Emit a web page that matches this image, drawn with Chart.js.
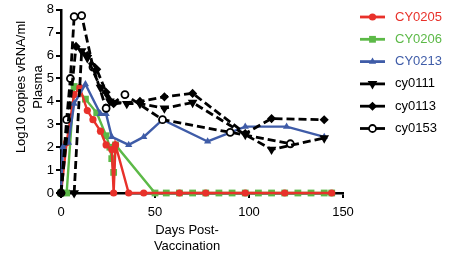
<!DOCTYPE html>
<html><head><meta charset="utf-8">
<script src="https://cdn.jsdelivr.net/npm/chart.js@4/dist/chart.umd.min.js"></script>
<style>html,body{margin:0;padding:0;background:#fff}#wrap{width:450px;height:253px}</style>
</head><body><div id="wrap"><canvas id="c" width="450" height="253"></canvas></div>
<script>
const seriesNames = ["CY0205","CY0206","CY0213","cy0111","cy0113","cy0153"];
const cy0205Days = [0,3,7,10,14,17,21,24,27,28,29,36,44,63,77,98,119,144];
const cy0205Vals = [0,2.2,4.3,4.6,3.6,3.2,2.7,2.1,1.9,0,2.1,0,0,0,0,0,0,0];
const cy0206Days = [0,3,7,13,19,24,26,27,28,29,50,56,63,70,77,84,91,98,105,112,119,126,133,140,144];
const cy0206Vals = [0,0,4.65,4.1,3.5,2.5,2.0,1.5,0.9,2.1,0,0,0,0,0,0,0,0,0,0,0,0,0,0,0];
const cy0213Days = [0,1,4,7,13,21,24,27,36,44,54,78,98,120,140];
const cy0213Vals = [0,2.0,2.2,3.9,4.75,3.45,3.45,2.45,2.1,2.45,3.2,2.25,2.9,2.9,2.45];
const cy0111Days = [7,11,14,21,26,35,42,55,70,98,112,140];
const cy0111Vals = [0,6.2,5.9,4.6,4.0,3.9,3.9,3.7,3.95,2.55,1.9,2.4];
const cy0113Days = [0,8,14,19,24,28,42,55,70,98,112,140];
const cy0113Vals = [0,6.4,6.0,5.4,4.4,3.9,4.0,4.2,4.35,2.6,3.25,3.2];
const cy0153Days = [0,3,5,7,11,17,24,34,54,90,122];
const cy0153Vals = [0,3.2,5.0,7.7,7.75,5.5,3.7,4.3,3.2,2.65,2.15];
const xTicks = [0,50,100,150];
const yTicks = [0,1,2,3,4,5,6,7,8];

const RED="#e8312a", GREEN="#5cb947", BLUE="#3f5ca8", BLACK="#000";
const pts=(d,v)=>d.map((x,i)=>({x:x,y:v[i]}));
const FONT="'Liberation Sans', Arial, sans-serif";

function colored(name,d,v,color,style,r){
  return {label:name,data:pts(d,v),borderColor:color,backgroundColor:color,borderWidth:2.4,
    pointStyle:style,pointRadius:r,pointBorderWidth:0,pointBorderColor:color,pointBackgroundColor:color,clip:false,tension:0};
}
function dashed(name,d,v,style,r,rot,fill){
  return {label:name,data:pts(d,v),borderColor:BLACK,backgroundColor:BLACK,borderWidth:2.8,borderDash:[8,4],
    pointStyle:style,pointRadius:r,pointRotation:rot,pointBorderColor:BLACK,pointBorderWidth:1.8,
    pointBackgroundColor:fill,clip:false,tension:0};
}
const datasets=[
  dashed(seriesNames[3],cy0111Days,cy0111Vals,'triangle',3.8,180,BLACK),
  dashed(seriesNames[4],cy0113Days,cy0113Vals,'rectRot',3.3,0,BLACK),
  dashed(seriesNames[5],cy0153Days,cy0153Vals,'circle',3.5,0,'#fff'),
  colored(seriesNames[2],cy0213Days,cy0213Vals,BLUE,'triangle',4.2),
  colored(seriesNames[0],cy0205Days,cy0205Vals,RED,'circle',3.6),
  colored(seriesNames[1],cy0206Days,cy0206Vals,GREEN,'rect',4.8),
];

const legendOrder=[4,5,3,0,1,2];
const overlay={
  id:'overlay',
  afterDraw(chart){
    const ctx=chart.ctx;
    ctx.save();
    ctx.font="13px "+FONT;
    ctx.textBaseline='middle';
    legendOrder.forEach((di,i)=>{
      const ds=chart.data.datasets[di];
      const y=17+i*22.3;
      ctx.setLineDash([]);
      ctx.strokeStyle=ds.borderColor;ctx.lineWidth=2.8;
      ctx.beginPath();ctx.moveTo(360,y);ctx.lineTo(385,y);ctx.stroke();
      ctx.fillStyle=ds.pointBackgroundColor;
      ctx.strokeStyle=ds.pointBorderColor;
      ctx.lineWidth=ds.pointBorderWidth||0;
      Chart.helpers.drawPoint(ctx,{pointStyle:ds.pointStyle,radius:ds.pointRadius,rotation:ds.pointRotation||0,borderWidth:ds.pointBorderWidth||0},372.5,y);
      ctx.fillStyle=(di>=3)?ds.borderColor:BLACK;
      ctx.textAlign='left';
      ctx.fillText(ds.label,395,y);
    });
    ctx.fillStyle=BLACK;ctx.textAlign='center';
    ctx.fillText("Days Post-",187,230);
    ctx.fillText("Vaccination",187,246);
    ctx.translate(21,87);ctx.rotate(-Math.PI/2);
    ctx.fillText("Log10 copies vRNA/ml",0,0);
    ctx.fillText("Plasma",0,17);
    ctx.restore();
  }
};

new Chart(document.getElementById('c'),{
  type:'line',
  data:{datasets},
  options:{
    responsive:false,animation:false,
    layout:{padding:{left:0,right:107,top:2,bottom:0}},
    plugins:{legend:{display:false},tooltip:{enabled:false}},
    scales:{
      x:{type:'linear',min:0,max:150,
        afterBuildTicks:s=>{s.ticks=xTicks.map(v=>({value:v}));},
        afterFit:s=>{s.height=60;},
        ticks:{color:BLACK,font:{family:FONT,size:13},padding:7,maxRotation:0},
        grid:{display:true,drawOnChartArea:false,drawTicks:true,tickLength:5,color:BLACK,lineWidth:2},
        border:{color:BLACK,width:2.5}},
      y:{type:'linear',min:0,max:8,
        afterBuildTicks:s=>{s.ticks=yTicks.map(v=>({value:v}));},
        afterFit:s=>{s.width=61;},
        ticks:{color:BLACK,font:{family:FONT,size:13},padding:2},
        grid:{display:true,drawOnChartArea:false,drawTicks:true,tickLength:5,color:BLACK,lineWidth:2},
        border:{color:BLACK,width:2.5}}
    }
  },
  plugins:[overlay]
});
</script></body></html>
